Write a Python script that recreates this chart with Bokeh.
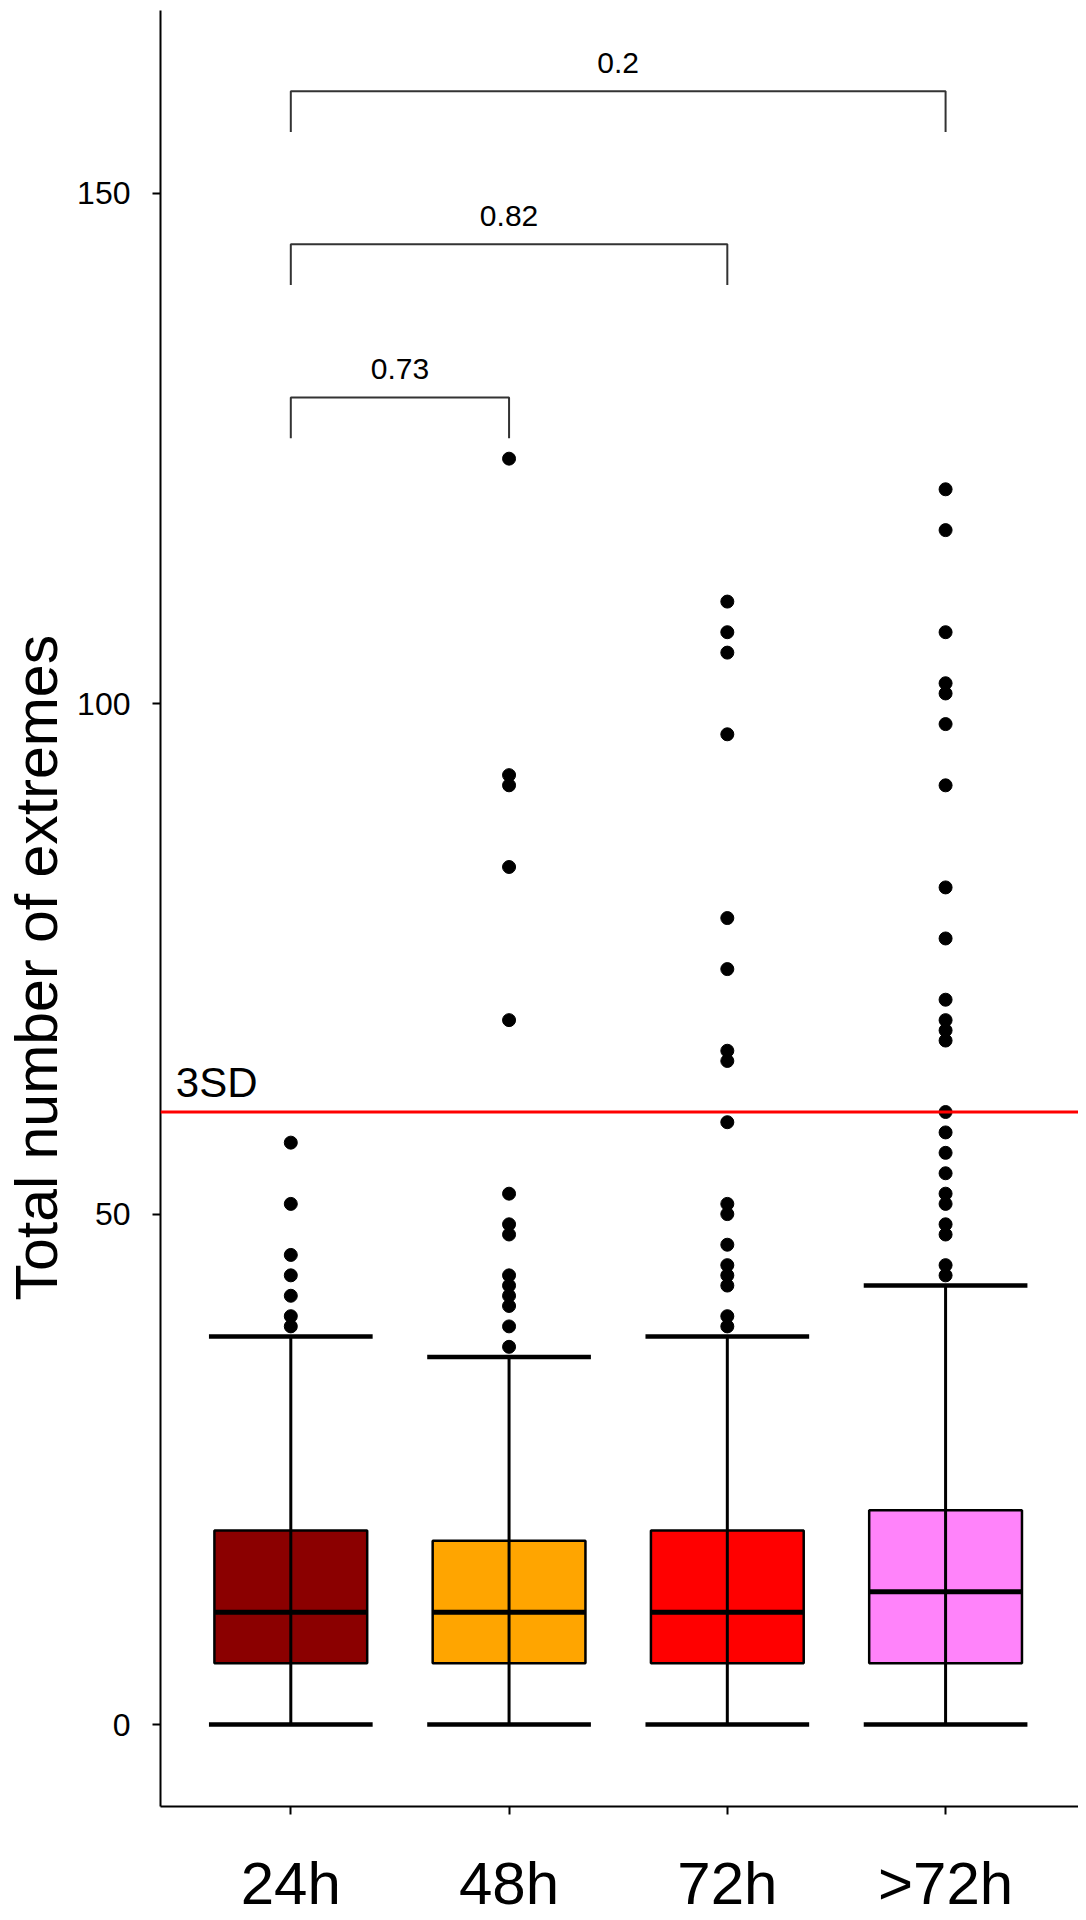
from bokeh.plotting import figure
from bokeh.models import Span, Label, FixedTicker, ColumnDataSource, Title
from bokeh.embed import file_html
from bokeh.resources import INLINE
from bokeh.core.properties import value

# ---------------- data ----------------
categories = ["24h", "48h", "72h", ">72h"]
fill_colors = ["#8B0000", "#FFA500", "#FF0000", "#FF83FA"]
q1 = [6, 6, 6, 6]
median = [11, 11, 11, 13]
q3 = [19, 18, 19, 21]
whisker_low = [0, 0, 0, 0]
whisker_high = [38, 36, 38, 43]
outliers_24h = [57, 51, 46, 44, 42, 40, 39]
outliers_48h = [124, 93, 92, 84, 69, 52, 49, 48, 44, 43, 42, 41, 39, 37]
outliers_72h = [110, 107, 105, 97, 79, 74, 66, 65, 59, 51, 50, 47, 45, 44, 43, 40, 39]
outliers_gt72h = [121, 117, 107, 102, 101, 98, 92, 82, 77, 71, 69, 68, 67,
                  60, 58, 56, 54, 52, 51, 49, 48, 45, 44]
threshold_3sd = 60
threshold_label = "3SD"
comparisons = [("24h", "48h"), ("24h", "72h"), ("24h", ">72h")]
p_values = ["0.73", "0.82", "0.2"]
bracket_y = [130, 145, 160]
bracket_tip = 4
y_ticks = [0, 50, 100, 150]
y_title = "Total number of extremes"

FONT = "Liberation Sans"
pos = {c: i + 1 for i, c in enumerate(categories)}
xs = [pos[c] for c in categories]

p = figure(width=1078, height=1920, x_range=(0.403, 4.609), y_range=(-8.03, 167.9),
           output_backend="svg", toolbar_location=None,
           min_border_left=159, min_border_right=0, min_border_top=10, min_border_bottom=114)
p.outline_line_color = None
p.xgrid.visible = False
p.ygrid.visible = False
p.background_fill_color = "white"
p.border_fill_color = "white"

# boxes
bw = 0.7
cw = 0.75
box_src = ColumnDataSource(dict(
    left=[x - bw / 2 for x in xs], right=[x + bw / 2 for x in xs],
    bottom=q1, top=q3, color=fill_colors))
p.quad(left="left", right="right", bottom="bottom", top="top", fill_color="color",
       line_color="black", line_width=2.5, source=box_src)
p.segment(x0=[x - bw / 2 for x in xs], x1=[x + bw / 2 for x in xs],
          y0=median, y1=median, line_color="black", line_width=5)
# whiskers (drawn through the box)
p.segment(x0=xs, x1=xs, y0=whisker_low, y1=whisker_high, line_color="black", line_width=3)
p.segment(x0=[x - cw / 2 for x in xs], x1=[x + cw / 2 for x in xs],
          y0=whisker_high, y1=whisker_high, line_color="black", line_width=4.5)
p.segment(x0=[x - cw / 2 for x in xs], x1=[x + cw / 2 for x in xs],
          y0=whisker_low, y1=whisker_low, line_color="black", line_width=4.5)

# outliers
out_x, out_y = [], []
for c, vals in zip(categories, [outliers_24h, outliers_48h, outliers_72h, outliers_gt72h]):
    out_x += [pos[c]] * len(vals)
    out_y += vals
p.scatter(out_x, out_y, size=13, color="black", line_color="black")

# 3SD line
p.add_layout(Span(location=threshold_3sd, dimension="width", line_color="#FF0000", line_width=3))
p.add_layout(Label(x=0.473, y=threshold_3sd + 2.9, text=threshold_label, text_font=FONT,
                   text_font_size="42px", text_color="black", text_align="left",
                   text_baseline="alphabetic"))

# comparison brackets
bx, by = [], []
lab_x, lab_y = [], []
for (a, b), yb in zip(comparisons, bracket_y):
    xa, xb = pos[a], pos[b]
    bx.append([xa, xa, xb, xb])
    by.append([yb - bracket_tip, yb, yb, yb - bracket_tip])
    lab_x.append((xa + xb) / 2)
    lab_y.append(yb + 2.8)
p.multi_line(bx, by, line_color="#333333", line_width=2)
p.text(x=lab_x, y=lab_y, text=p_values, text_font=value(FONT), text_font_size=value("30px"),
       text_align="center", text_baseline="alphabetic", text_color="black")

# axes
for ax in (p.xaxis[0], p.yaxis[0]):
    ax.axis_line_width = 2
    ax.axis_line_color = "black"
    ax.major_tick_line_color = "black"
    ax.major_tick_line_width = 2
    ax.major_tick_in = 0
    ax.major_tick_out = 8
    ax.minor_tick_line_color = None
    ax.major_label_text_font = FONT
    ax.major_label_text_color = "black"

p.yaxis.ticker = FixedTicker(ticks=y_ticks)
p.yaxis.major_label_text_font_size = "32px"
p.yaxis.major_label_standoff = 22

p.xaxis.ticker = FixedTicker(ticks=xs)
p.xaxis.major_label_overrides = {x: c for x, c in zip(xs, categories)}
p.xaxis.major_label_text_font_size = "60px"
p.xaxis.major_label_standoff = 35

# y-axis title (placed outside the tick labels, shifted along the axis like the original)
p.add_layout(Title(text=y_title, align="left", vertical_align="top", offset=506, standoff=6,
                   text_font=FONT, text_font_size="59px", text_font_style="normal",
                   text_color="black"), "left")

open("out.html", "w").write(file_html(p, INLINE))
